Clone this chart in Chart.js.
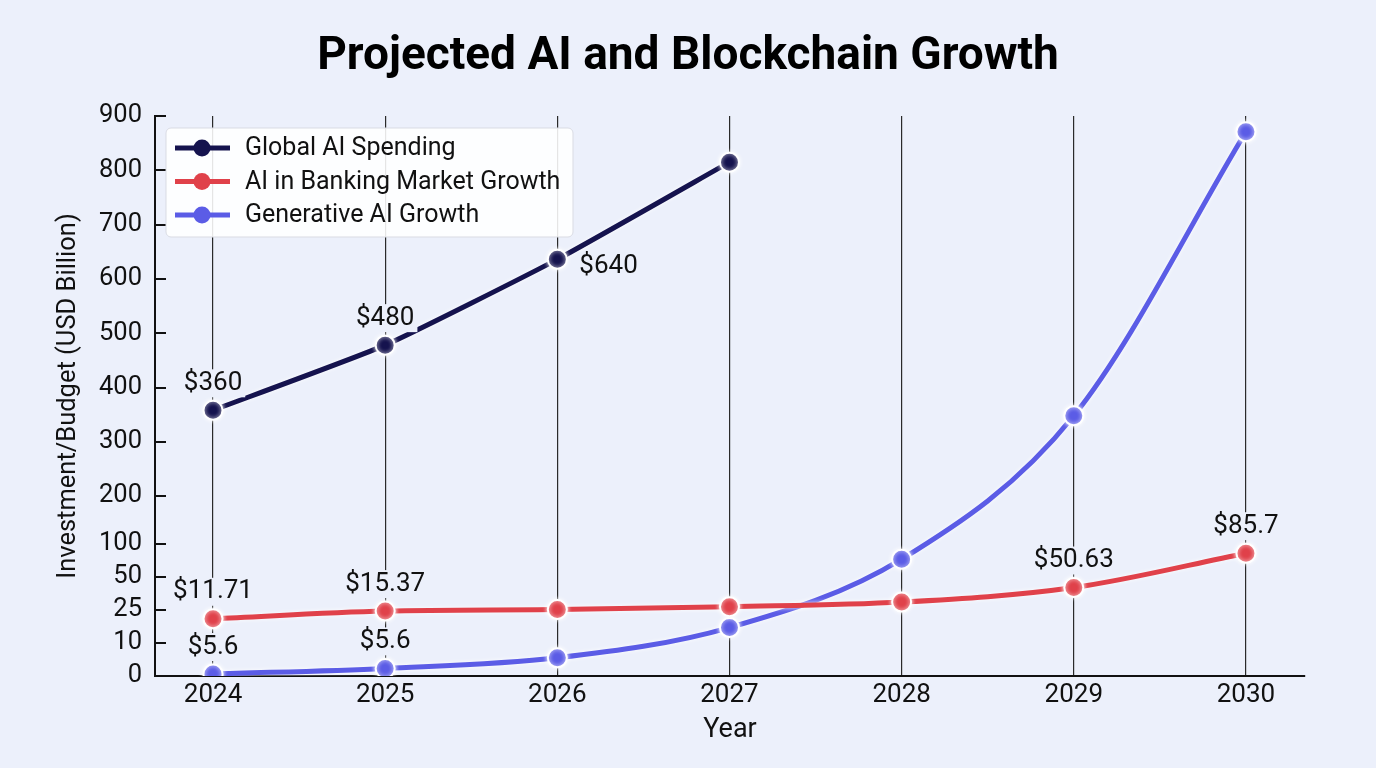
<!DOCTYPE html>
<html>
<head>
<meta charset="utf-8">
<title>Projected AI and Blockchain Growth</title>
<script src="https://cdn.jsdelivr.net/npm/chart.js@4.4.1/dist/chart.umd.min.js"></script>
<style>
    html, body { margin: 0; padding: 0; background: #ECF0FB; }
    #wrap { width: 1376px; height: 768px; }
</style>
</head>
<body>
<div id="wrap"><canvas id="growthChart"></canvas></div>
<script>
// Data
const YEARS = [2024, 2025, 2026, 2027, 2028, 2029, 2030];
const GLOBAL_AI = [358, 478, 636, 815, null, null, null];
const BANKING = [21, 24.5, 25.3, 27.5, 31, 42, 86];
const GEN_AI = [0.6, 2.3, 5.5, 17, 77, 348, 871];

// Value labels printed next to the points
const GLOBAL_LABELS = ["$360", "$480", "$640", null, null, null, null];
const BANKING_LABELS = ["$11.71", "$15.37", null, null, null, "$50.63", "$85.7"];
const GEN_LABELS = ["$5.6", "$5.6", null, null, null, null, null];

const Y_TICKS = [0, 10, 25, 50, 100, 200, 300, 400, 500, 600, 700, 800, 900];

const TITLE = "Projected AI and Blockchain Growth";
const BG = "#ECF0FB";
const FONT = "Roboto";

// Axis with uneven tick spacing: each gap between ticks gets its own weight
class SegmentScale extends Chart.LinearScale {
    static id = "segment";
    static defaults = Chart.LinearScale.defaults;

    buildTicks() {
        return this.options.breaks.map(v => ({ value: v }));
    }

    _units(v) {
        const b = this.options.breaks, w = this.options.weights;
        let u = 0;
        for (let i = 0; i < b.length - 1; i++) {
            if (v <= b[i + 1]) return u + w[i] * (v - b[i]) / (b[i + 1] - b[i]);
            u += w[i];
        }
        return u;
    }

    getPixelForValue(v) {
        const total = this.options.weights.reduce((a, c) => a + c, 0);
        return this.getPixelForDecimal(this._units(v) / total);
    }

    getValueForPixel(px) {
        const b = this.options.breaks, w = this.options.weights;
        const total = w.reduce((a, c) => a + c, 0);
        let u = this.getDecimalForPixel(px) * total;
        for (let i = 0; i < w.length; i++) {
            if (u <= w[i]) return b[i] + (b[i + 1] - b[i]) * u / w[i];
            u -= w[i];
        }
        return b[b.length - 1];
    }
}
Chart.register(SegmentScale);

// soft white halo round the lines
const haloPlugin = {
    id: "halo",
    beforeDatasetDraw(chart) {
        const ctx = chart.ctx;
        ctx.save();
        ctx.shadowColor = "rgba(255,255,255,0.95)";
        ctx.shadowBlur = 4;
    },
    afterDatasetDraw(chart) {
        chart.ctx.restore();
    }
};

// title centred on the whole canvas
const titlePlugin = {
    id: "pageTitle",
    afterDraw(chart) {
        const ctx = chart.ctx;
        ctx.save();
        ctx.font = "bold 46px " + FONT;
        ctx.fillStyle = "#000000";
        ctx.textAlign = "center";
        ctx.textBaseline = "middle";
        ctx.fillText(TITLE, chart.width / 2, 57);
        ctx.restore();
    }
};

const valueLabelPlugin = {
    id: "valueLabels",
    afterDatasetsDraw(chart) {
        const ctx = chart.ctx;
        ctx.save();
        ctx.font = "26px " + FONT;
        ctx.textBaseline = "middle";
        chart.data.datasets.forEach((ds, i) => {
            const meta = chart.getDatasetMeta(i);
            (ds.valueLabels || []).forEach((txt, j) => {
                if (!txt) return;
                const pt = meta.data[j];
                const right = ds.labelRight && ds.labelRight.includes(j);
                const w = ctx.measureText(txt).width;
                let x, y;
                if (right) {
                    x = pt.x + 22 + w / 2;
                    y = pt.y + 7;
                } else {
                    x = pt.x;
                    y = pt.y - 27;
                }
                ctx.fillStyle = BG;
                ctx.fillRect(x - w / 2 - 3, y - 14, w + 6, 28);
                ctx.fillStyle = "#111111";
                ctx.textAlign = "center";
                ctx.fillText(txt, x, y);
            });
        });
        ctx.restore();
    }
};

const legendBoxPlugin = {
    id: "legendBox",
    afterDraw(chart) {
        const ctx = chart.ctx;
        const bx = 166, by = 128, bw = 407, bh = 109;
        ctx.save();
        ctx.beginPath();
        ctx.roundRect(bx, by, bw, bh, 5);
        ctx.fillStyle = "rgba(255,255,255,0.88)";
        ctx.fill();
        ctx.strokeStyle = "#d9dbe3";
        ctx.lineWidth = 1;
        ctx.stroke();

        ctx.font = "25px " + FONT;
        ctx.textBaseline = "middle";
        ctx.textAlign = "left";
        chart.data.datasets.forEach((ds, i) => {
            const y = by + 20 + i * 33.5;
            ctx.strokeStyle = ds.borderColor;
            ctx.lineWidth = 5;
            ctx.beginPath();
            ctx.moveTo(175, y);
            ctx.lineTo(230, y);
            ctx.stroke();
            ctx.beginPath();
            ctx.arc(202, y, 8.5, 0, Math.PI * 2);
            ctx.fillStyle = ds.borderColor;
            ctx.fill();
            ctx.fillStyle = "#111111";
            ctx.fillText(ds.label, 245, y + 1);
        });
        ctx.restore();
    }
};

function series(values) {
    return YEARS.map((yr, i) => ({ x: yr, y: values[i] }));
}

const ctx = document.getElementById("growthChart");

new Chart(ctx, {
    type: "line",
    data: {
        datasets: [
            {
                label: "Global AI Spending",
                data: series(GLOBAL_AI),
                valueLabels: GLOBAL_LABELS,
                labelRight: [2],
                borderColor: "#15134E",
                backgroundColor: "#15134E",
                cubicInterpolationMode: "default",
                tension: 0.15
            },
            {
                label: "AI in Banking Market Growth",
                data: series(BANKING),
                valueLabels: BANKING_LABELS,
                borderColor: "#E0414A",
                backgroundColor: "#E0414A"
            },
            {
                label: "Generative AI Growth",
                data: series(GEN_AI),
                valueLabels: GEN_LABELS,
                borderColor: "#5B5CE6",
                backgroundColor: "#5B5CE6"
            }
        ]
    },
    options: {
        responsive: true,
        maintainAspectRatio: false,
        animation: false,
        layout: { padding: { top: 116, left: 0, right: 71, bottom: 0 } },
        elements: {
            line: { borderWidth: 5, cubicInterpolationMode: "monotone" },
            point: { radius: 9.5, borderWidth: 2, borderColor: "#ffffff", hoverRadius: 9.5 }
        },
        datasets: {
            line: { pointBorderColor: "#ffffff", pointBorderWidth: 2 }
        },
        plugins: {
            legend: { display: false },
            tooltip: { enabled: false },
            title: { display: false }
        },
        scales: {
            x: {
                type: "linear",
                min: 2023.663,
                max: 2030.343,
                afterBuildTicks: scale => {
                    scale.ticks = YEARS.map(v => ({ value: v }));
                },
                afterFit: scale => { scale.height = 92; },
                ticks: {
                    color: "#111111",
                    font: { family: FONT, size: 26 },
                    padding: 4,
                    callback: v => String(v)
                },
                grid: { color: "#2a2a2a", lineWidth: 1.2, drawTicks: false },
                border: { display: true, color: "#111111", width: 2 },
                title: {
                    display: true,
                    text: "Year",
                    color: "#111111",
                    font: { family: FONT, size: 27 },
                    padding: { top: 0, bottom: 22 }
                }
            },
            y: {
                type: "segment",
                min: 0,
                max: 900,
                breaks: Y_TICKS,
                weights: [1, 1, 1, 1, 1.45, 1.645, 1.645, 1.645, 1.645, 1.645, 1.645, 1.645],
                afterFit: scale => { scale.width = 155; },
                ticks: {
                    color: "#111111",
                    font: { family: FONT, size: 25.5 },
                    padding: 24,
                    autoSkip: false
                },
                grid: { drawOnChartArea: false, drawTicks: true, tickLength: -11, color: "#111111", lineWidth: 2 },
                border: { display: true, color: "#111111", width: 2 },
                title: {
                    display: true,
                    text: "Investment/Budget (USD Billion)",
                    color: "#111111",
                    font: { family: FONT, size: 25.5 },
                    padding: { top: 53, bottom: 0 }
                }
            }
        }
    },
    plugins: [haloPlugin, valueLabelPlugin, legendBoxPlugin, titlePlugin]
});
</script>
</body>
</html>
